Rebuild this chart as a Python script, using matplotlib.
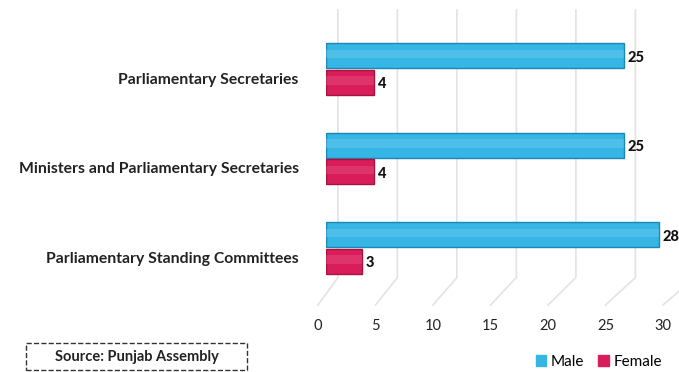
import numpy as np
import matplotlib.pyplot as plt
from matplotlib.lines import Line2D
from matplotlib.patches import Patch, Rectangle

categories = ['Parliamentary Secretaries',
              'Ministers and Parliamentary Secretaries',
              'Parliamentary Standing Committees']
male = [25, 25, 28]
female = [4, 4, 3]
xticks = [0, 5, 10, 15, 20, 25, 30]
source_text = 'Source: Punjab Assembly'

blue = '#35b6e4'
blue_edge = '#1d86b5'
pink = '#d91d5b'
pink_edge = '#a8123f'
text_col = '#222222'

plt.rcParams['font.family'] = ['Lato', 'DejaVu Sans']

W, H = 679, 372
fig = plt.figure(figsize=(W / 100, H / 100), dpi=100)

# main plot area (pixel based layout)
ax_l, ax_r = 326 / W, 1.0
ax_t, ax_b = 1 - 10 / H, 1 - 285 / H
ax = fig.add_axes([ax_l, ax_b, ax_r - ax_l, ax_t - ax_b])
xmax = (W - 326) / 11.9
ax.set_xlim(0, xmax)
ax.set_ylim(2.413, -0.659)
ax.axis('off')

y = np.arange(len(categories))
h = 0.275
off = 0.148

# back-wall gridlines running down onto the floor
floor_l, floor_r = 318 / W, 663 / W
floor_y = 1 - 305 / H
for v in xticks:
    xt = ax_l + (v + 1) / xmax * (ax_r - ax_l)
    xf = floor_l + v / 30 * (floor_r - floor_l)
    fig.add_artist(Line2D([xt, xt, xf], [ax_t, ax_b + 0.02, floor_y],
                          transform=fig.transFigure, color='#e3e3e3',
                          lw=1.2, zorder=0))

ax.barh(y - off, male, height=h, color=blue, edgecolor=blue_edge, lw=1.0, zorder=3)
ax.barh(y + off, female, height=h, color=pink, edgecolor=pink_edge, lw=1.0, zorder=3)
# soft lighter band for a rounded look
ax.barh(y - off - 0.02, male, height=h * 0.35, color='#6ccbee', alpha=0.45, lw=0, zorder=4)
ax.barh(y + off - 0.02, female, height=h * 0.35, color='#e8507f', alpha=0.45, lw=0, zorder=4)

for yi, m, f in zip(y, male, female):
    ax.text(m + 0.3, yi - off + 0.02, str(m), va='center', ha='left', fontsize=10.5,
            fontweight='black', color='#111111', clip_on=False)
    ax.text(f + 0.3, yi + off + 0.02, str(f), va='center', ha='left', fontsize=10.5,
            fontweight='black', color='#111111', clip_on=False)

for yi, c in zip(y, categories):
    ax.text(-2.3, yi + 0.12, c, ha='right', va='center', fontsize=11.3,
            fontweight='bold', color=text_col, clip_on=False)

# floor axis carrying the tick labels
fax = fig.add_axes([floor_l, floor_y, floor_r - floor_l, 0.001])
fax.set_xlim(0, 30)
fax.set_xticks(xticks)
fax.set_xticklabels([str(t) for t in xticks], fontsize=10.5, color=text_col)
fax.tick_params(axis='x', length=0, pad=10)
fax.set_yticks([])
for s in fax.spines.values():
    s.set_visible(False)
fax.patch.set_visible(False)

# dashed source box
fig.add_artist(Rectangle((26 / W, 1 - 370 / H), 221 / W, 27 / H, transform=fig.transFigure,
                         fill=False, ec='#333333', ls='--', lw=1.0))
fig.text(137 / W, 1 - 357 / H, source_text, ha='center', va='center', fontsize=10.5,
         fontweight='bold', color=text_col)

handles = [Patch(color=blue, label='Male'), Patch(color=pink, label='Female')]
fig.legend(handles=handles, loc='center right', bbox_to_anchor=(0.995, 1 - 362 / H),
           ncol=2, frameon=False, fontsize=11, handlelength=0.7, handleheight=0.7,
           handletextpad=0.3, columnspacing=0.9)

fig.savefig('out.png', dpi=100)
